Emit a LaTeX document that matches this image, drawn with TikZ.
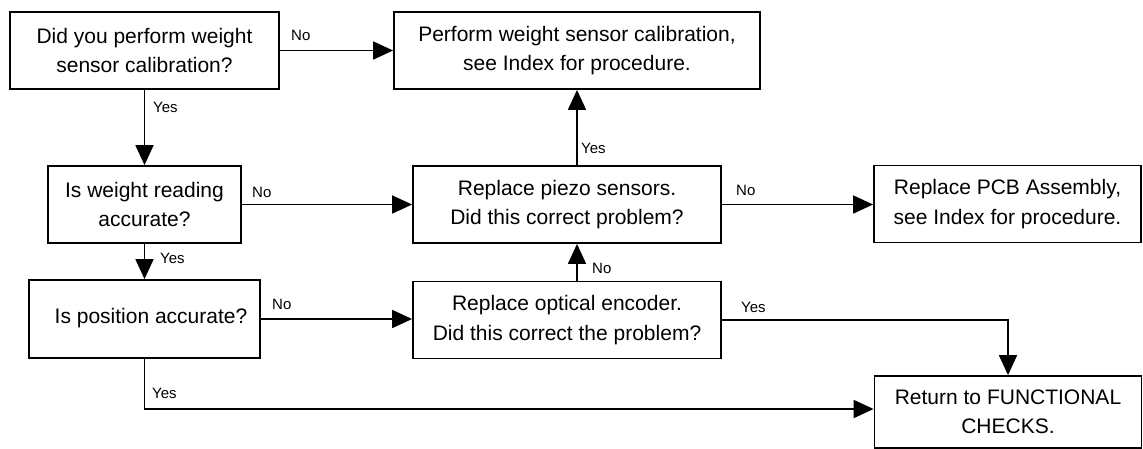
\documentclass[tikz,border=0pt]{standalone}
\usepackage{fontspec}
\setmainfont{Liberation Sans}
\usetikzlibrary{arrows.meta}
\tikzset{
  box/.style={draw, line width=1.8pt, rectangle, inner sep=0pt, align=center,
    font=\fontsize{21}{29.5}\selectfont},
  arr/.style={line width=1.8pt, -{Triangle[length=20pt,width=18pt]}},
  lbl/.style={anchor=west, inner sep=0pt, font=\fontsize{15}{16}\selectfont}
}
\begin{document}
\begin{tikzpicture}[x=1pt,y=-1pt]
\useasboundingbox (0,0) rectangle (1143,448);
\node[box, minimum width=269pt, minimum height=77pt] (A) at (144.5,50.5) {Did you perform weight\\sensor calibration?};
\node[box, minimum width=366pt, minimum height=77pt] (B) at (577,50.5) {Perform weight sensor calibration,\\see Index for procedure.};
\node[box, minimum width=193pt, minimum height=77pt] (C) at (144.5,204.5) {Is weight reading\\accurate?};
\node[box, minimum width=308pt, minimum height=77pt] (D) at (567,204.5) {Replace piezo sensors.\\Did this correct problem?};
\node[box, minimum width=267pt, minimum height=77pt] (G) at (1007.5,204) {Replace PCB Assembly,\\see Index for procedure.};
\node[box, minimum width=231pt, minimum height=78pt] (E) at (144.5,319) {};
\node[font=\fontsize{21}{29.5}\selectfont, inner sep=0pt] (Et) at (151,318) {Is position accurate?};
\node[box, minimum width=308pt, minimum height=77pt] (F) at (567,320) {Replace optical encoder.\\Did this correct the problem?};
\node[box, minimum width=267pt, minimum height=72pt] (H) at (1008,412) {Return to FUNCTIONAL\\CHECKS.};

\draw[arr] (A.east) -- (B.west);
\draw[arr] (A.south) -- (C.north);
\draw[arr] (C.east) -- (D.west);
\draw[arr] ([xshift=10pt]D.north) -- ([xshift=10pt]D.north |- B.south);
\draw[arr] (C.south) -- (E.north);
\draw[arr] (E.east) -- (E.east -| F.west);
\draw[arr] ([xshift=10pt]F.north) -- ([xshift=10pt]F.north |- D.south);
\draw[arr] (D.east) -- (D.east -| G.west);
\draw[arr] (F.east) -| (H.north);
\coordinate (hw) at ([yshift=3pt]H.west);
\draw[arr] (E.south) |- (hw);

\node[lbl] (l1) at (291,35) {No};
\node[lbl] (l2) at (153,107) {Yes};
\node[lbl] (l3) at (252,192) {No};
\node[lbl] (l4) at (160,258) {Yes};
\node[lbl] (l5) at (272,304) {No};
\node[lbl] (l6) at (581,148) {Yes};
\node[lbl] (l7) at (592,268) {No};
\node[lbl] (l8) at (736,190) {No};
\node[lbl] (l9) at (741,307) {Yes};
\node[lbl] (l10) at (152,393) {Yes};
\end{tikzpicture}
\end{document}
